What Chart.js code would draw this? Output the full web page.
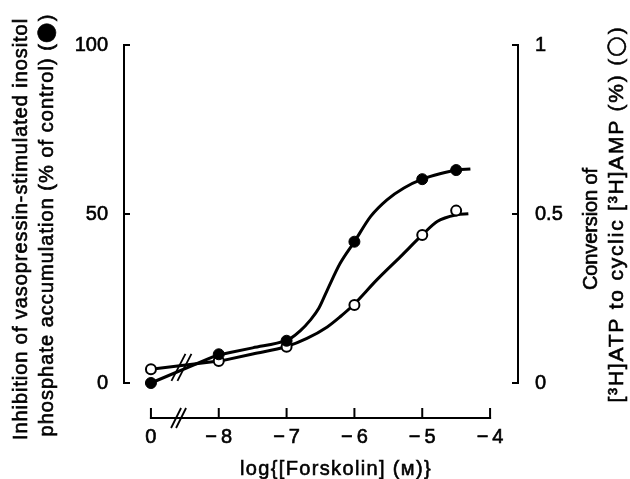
<!DOCTYPE html>
<html><head><meta charset="utf-8">
<script src="https://cdn.jsdelivr.net/npm/chart.js@4/dist/chart.umd.min.js"></script>
<style>html,body{margin:0;padding:0;background:#fff;}</style>
</head><body>
<canvas id="c" width="630" height="479"></canvas>
<script>
// ---- data ----
const xTicks = [-9, -8, -7, -6, -5, -4];
const xTickLabels = ['0', '\u2212\u20098', '\u2212\u20097', '\u2212\u20096', '\u2212\u20095', '\u2212\u20094'];
const leftTicks = [0, 50, 100];
const leftTickLabels = ['0', '50', '100'];
const rightTicks = [0, 0.5, 1];
const rightTickLabels = ['0', '0.5', '1'];

const logConc = [-9, -8, -7, -6, -5, -4.5];           // -9 position shows the "0" (no forskolin) point
const inhibition = [0, 8.5, 12.5, 41.8, 60.3, 63.0];  // filled circles, % of control
const conversion = [0.041, 0.065, 0.107, 0.231, 0.438, 0.51]; // open circles, %

const inhibFitX = [-8, -7.5, -7, -6.94, -6.8, -6.65, -6.525, -6.4, -6.21, -6.0, -5.76, -5.52, -5.27, -5.0, -4.74, -4.49, -4.29];
const inhibFitY = [8.3, 10.4, 12.6, 13.2, 15.4, 18.6, 22.1, 27.5, 35.4, 41.8, 49.3, 54.2, 57.7, 60.3, 61.9, 63.0, 63.3];
const convFitX = [-8, -7.5, -7, -6.7, -6.4, -6.21, -6.02, -5.67, -5.32, -5.0, -4.78, -4.49, -4.32];
const convFitY = [0.064, 0.086, 0.108, 0.132, 0.166, 0.196, 0.230, 0.305, 0.374, 0.438, 0.478, 0.498, 0.501];

const FONT = '"Liberation Sans", Arial, Helvetica, sans-serif';
const SYM = '"DejaVu Sans", sans-serif';

const pts = (xs, ys) => xs.map((x, i) => ({ x: x, y: ys[i] }));

// draw a sequence of text runs centred at (cx, cy), optionally rotated, spread to a target length
function drawRuns(ctx, runs, cx, cy, rot, target) {
  ctx.save();
  ctx.translate(cx, cy);
  if (rot) ctx.rotate(rot);
  ctx.textAlign = 'left';
  ctx.textBaseline = 'middle';
  ctx.fillStyle = '#000';
  ctx.strokeStyle = '#000';
  ctx.lineWidth = 0.6;
  const hasLS = ('letterSpacing' in ctx);
  if (hasLS) ctx.letterSpacing = '0px';
  let w0 = 0, n = 0;
  runs.forEach(r => {
    ctx.font = r.s + 'px ' + (r.f || FONT);
    r.w = ctx.measureText(r.t).width;
    r.n = Array.from(r.t).length;
    w0 += r.w; n += r.n;
  });
  const sp = hasLS ? Math.max(-0.5, (target - w0) / n) : 0;
  const total = w0 + sp * n;
  let x = -total / 2;
  runs.forEach(r => {
    ctx.font = r.s + 'px ' + (r.f || FONT);
    if (hasLS) ctx.letterSpacing = sp + 'px';
    ctx.fillText(r.t, x, r.dy || 0);
    ctx.strokeText(r.t, x, r.dy || 0);
    x += r.w + sp * r.n;
  });
  ctx.restore();
}

const axesPlugin = {
  id: 'axesPlugin',
  afterDraw(chart) {
    const ctx = chart.ctx;
    const xs = chart.scales.x, yl = chart.scales.y, yr = chart.scales.y2;
    const ca = chart.chartArea;
    const L = ca.left, R = ca.right, B = ca.bottom;
    ctx.save();
    ctx.strokeStyle = '#000';
    ctx.lineWidth = 2;
    ctx.lineCap = 'butt';
    const line = (x1, y1, x2, y2) => { ctx.beginPath(); ctx.moveTo(x1, y1); ctx.lineTo(x2, y2); ctx.stroke(); };
    // left axis
    line(L, yl.getPixelForValue(leftTicks[0]) + 1, L, yl.getPixelForValue(leftTicks[leftTicks.length - 1]) - 1);
    leftTicks.forEach(v => { const p = yl.getPixelForValue(v); line(L - 1, p, L + 6, p); });
    // right axis
    line(R, yr.getPixelForValue(rightTicks[0]) + 1, R, yr.getPixelForValue(rightTicks[rightTicks.length - 1]) - 1);
    rightTicks.forEach(v => { const p = yr.getPixelForValue(v); line(R + 1, p, R - 6, p); });
    // x axis
    const x0 = xs.getPixelForValue(xTicks[0]), x1 = xs.getPixelForValue(xTicks[xTicks.length - 1]);
    line(x0 - 1, B, x1 + 1, B);
    xTicks.forEach(v => { const p = xs.getPixelForValue(v); line(p, B + 1, p, B - 10); });
    // axis break marks
    const bx = xs.getPixelForValue(-8.6);
    ctx.lineWidth = 1.8;
    line(bx - 7, B + 10, bx + 3, B - 10);
    line(bx - 2, B + 10, bx + 8, B - 10);
    // data break marks
    const dx = xs.getPixelForValue(-8.55);
    const dy = (yl.getPixelForValue(4) + yr.getPixelForValue(0.055)) / 2;
    line(dx - 10, dy + 14, dx + 4, dy - 13);
    line(dx - 4, dy + 14, dx + 10, dy - 13);
    ctx.restore();

    // axis titles
    const up = -Math.PI / 2;
    drawRuns(ctx, [{ t: 'Inhibition of vasopressin-stimulated inositol', s: 20 }], 21, 229, up, 422);
    drawRuns(ctx, [{ t: 'phosphate accumulation (% of control) (', s: 20 },
                   { t: '\u25CF', s: 24, f: SYM }, { t: ')', s: 20 }], 47, 225, up, 423);
    drawRuns(ctx, [{ t: 'Conversion of', s: 20 }], 591, 229, up, 122);
    drawRuns(ctx, [{ t: '[\u00B3H]ATP to cyclic [\u00B3H]AMP (%) (', s: 21 },
                   { t: '\u25CB', s: 24, f: SYM }, { t: ')', s: 21 }], 617, 214, up, 377);
    drawRuns(ctx, [{ t: 'log{[Forskolin] (\u1D0D)}', s: 20 }], 336, 469, 0, 192);
  }
};

const tickFont = { family: FONT, size: 20 };

new Chart(document.getElementById('c'), {
  type: 'scatter',
  data: {
    datasets: [
      { data: pts(logConc, inhibition), yAxisID: 'y', showLine: false, order: 0,
        pointRadius: 5.5, pointBackgroundColor: '#000', pointBorderColor: '#000', pointBorderWidth: 1 },
      { data: pts(logConc, conversion), yAxisID: 'y2', showLine: false, order: 0,
        pointRadius: 5, pointBackgroundColor: '#fff', pointBorderColor: '#000', pointBorderWidth: 2 },
      { data: pts(inhibFitX, inhibFitY), yAxisID: 'y', showLine: true, order: 1, pointRadius: 0,
        borderColor: '#000', borderWidth: 3, cubicInterpolationMode: 'monotone' },
      { data: pts(convFitX, convFitY), yAxisID: 'y2', showLine: true, order: 1, pointRadius: 0,
        borderColor: '#000', borderWidth: 3, cubicInterpolationMode: 'monotone' },
      { data: pts(logConc.slice(0, 2), inhibition.slice(0, 2)), yAxisID: 'y', showLine: true, order: 1,
        pointRadius: 0, borderColor: '#000', borderWidth: 3, tension: 0 },
      { data: pts(logConc.slice(0, 2), conversion.slice(0, 2)), yAxisID: 'y2', showLine: true, order: 1,
        pointRadius: 0, borderColor: '#000', borderWidth: 3, tension: 0 }
    ]
  },
  options: {
    responsive: false,
    animation: false,
    devicePixelRatio: 1,
    layout: { padding: { top: 45, left: 0, right: 0, bottom: 0 } },
    plugins: { legend: { display: false }, tooltip: { enabled: false } },
    scales: {
      x: {
        type: 'linear', position: 'bottom',
        min: -9 - 27 / 68, max: -4 + 28 / 68,
        afterBuildTicks: s => { s.ticks = xTicks.map(v => ({ value: v })); },
        afterFit: s => { s.height = 61; },
        grid: { display: false, drawTicks: false }, border: { display: false },
        ticks: { color: '#000', padding: 7, font: tickFont, maxRotation: 0, autoSkip: false,
          textStrokeColor: '#000', textStrokeWidth: 0.6,
          callback: v => xTickLabels[xTicks.indexOf(v)] }
      },
      y: {
        type: 'linear', position: 'left',
        min: -35 / 3.38, max: 100,
        afterBuildTicks: s => { s.ticks = leftTicks.map(v => ({ value: v })); },
        afterFit: s => { s.width = 124; },
        grid: { display: false, drawTicks: false }, border: { display: false },
        ticks: { color: '#000', padding: 16, font: tickFont, autoSkip: false,
          textStrokeColor: '#000', textStrokeWidth: 0.6,
          callback: v => leftTickLabels[leftTicks.indexOf(v)] }
      },
      y2: {
        type: 'linear', position: 'right',
        min: -0.35 / 3.38, max: 1,
        afterBuildTicks: s => { s.ticks = rightTicks.map(v => ({ value: v })); },
        afterFit: s => { s.width = 112; },
        grid: { display: false, drawTicks: false }, border: { display: false },
        ticks: { color: '#000', padding: 17, font: tickFont, autoSkip: false,
          textStrokeColor: '#000', textStrokeWidth: 0.6,
          callback: v => rightTickLabels[rightTicks.indexOf(v)] }
      }
    }
  },
  plugins: [axesPlugin]
});
</script>
</body></html>
